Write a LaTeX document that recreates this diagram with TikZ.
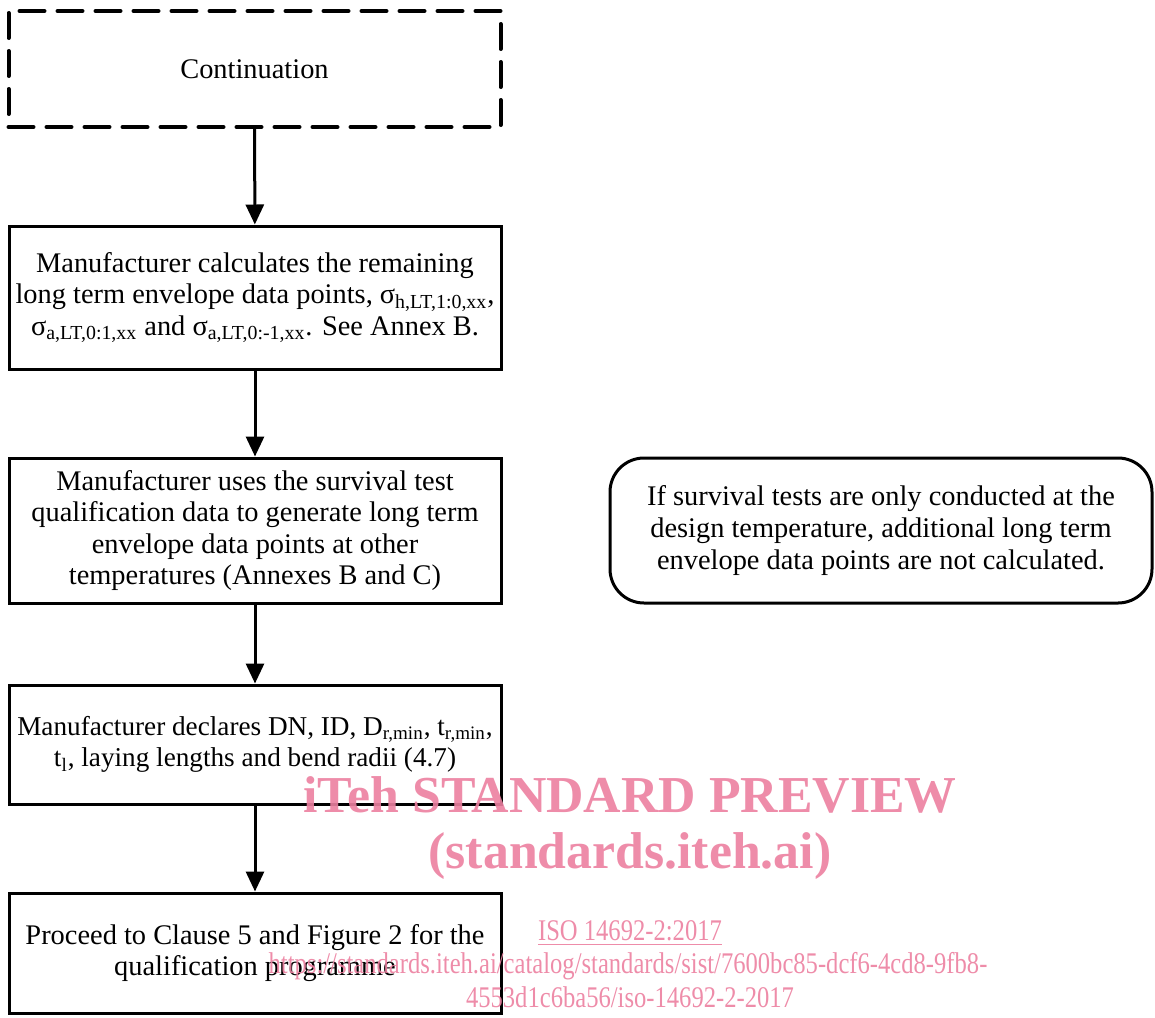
\documentclass[tikz,border=0pt]{standalone}
\usepackage{fontspec}
\setmainfont{Liberation Serif}
\usetikzlibrary{arrows.meta}

\definecolor{wmpink}{RGB}{236,128,160}

\begin{document}
\begin{tikzpicture}[x=0.5pt, y=-0.5pt,
        every node/.style={font=\fontsize{14.2}{15.8}\selectfont, align=center},
        stepbox/.style={rectangle, draw, line width=1.5pt, minimum width=246pt, inner sep=0pt},
        contbox/.style={stepbox, line width=2pt, dash pattern=on 12.5pt off 6.5pt, line cap=round},
        notebox/.style={rectangle, draw, line width=1.5pt, rounded corners=17pt, minimum width=271pt, inner sep=0pt},
        flow/.style={line width=1.5pt, -{Triangle[width=9pt,length=10pt]}},
        wmbig/.style={text=wmpink, opacity=.9, font=\fontsize{25.9}{30}\bfseries\selectfont},
        wmsmall/.style={text=wmpink, opacity=.9, font=\fontsize{15}{18}\selectfont}]

                    \useasboundingbox (0,0) rectangle (1155,1017);

                    \node[contbox, minimum height=58pt] (cont) at (254.5,69) {Continuation};
                    \node[stepbox, minimum height=71.5pt] (calc) at (255,297.5) {Manufacturer calculates the remaining\\ long term envelope data points, σ\textsubscript{h,LT,1:0,xx},\\ σ\textsubscript{a,LT,0:1,xx} and σ\textsubscript{a,LT,0:-1,xx}. See Annex B.};
                    \node[stepbox, minimum height=72.5pt] (surv) at (255,530.5) {Manufacturer uses the survival test\\ qualification data to generate long term\\ envelope data points at other\\ temperatures (Annexes B and C)};
                    \node[stepbox, minimum height=59.5pt, font=\fontsize{13.6}{15.8}\selectfont] (decl) at (255,744.5) {Manufacturer declares DN, ID, D\textsubscript{r,min}, t\textsubscript{r,min},\\ t\textsubscript{l}, laying lengths and bend radii (4.7)};
                    \node[stepbox, minimum height=60pt] (proc) at (255,953) {Proceed to Clause 5 and Figure 2 for the\\ qualification programme};
                    \node[notebox, minimum height=72.5pt] (note) at (881,530.5) {If survival tests are only conducted at the\\ design temperature, additional long term\\ envelope data points are not calculated.};

                    \draw[flow] (cont) -- (calc);
                    \draw[flow] (calc) -- (surv);
                    \draw[flow] (surv) -- (decl);
                    \draw[flow] (decl) -- (proc);

                    % watermark
                    \node[wmbig] (wm1) at (630,795) {iTeh STANDARD PREVIEW};
                    \node[wmbig] (wm2) at (630,856) {(standards.iteh.ai)};
                    \node[wmsmall] (wm3) at (630,933) {\scalebox{0.82}[1]{\underline{ISO 14692-2:2017}}};
                    \node[wmsmall] (wm4) at (628,966) {\scalebox{0.82}[1]{https://standards.iteh.ai/catalog/standards/sist/7600bc85-dcf6-4cd8-9fb8-}};
                    \node[wmsmall] (wm5) at (630,997) {\scalebox{0.82}[1]{4553d1c6ba56/iso-14692-2-2017}};

                \end{tikzpicture}
\end{document}
